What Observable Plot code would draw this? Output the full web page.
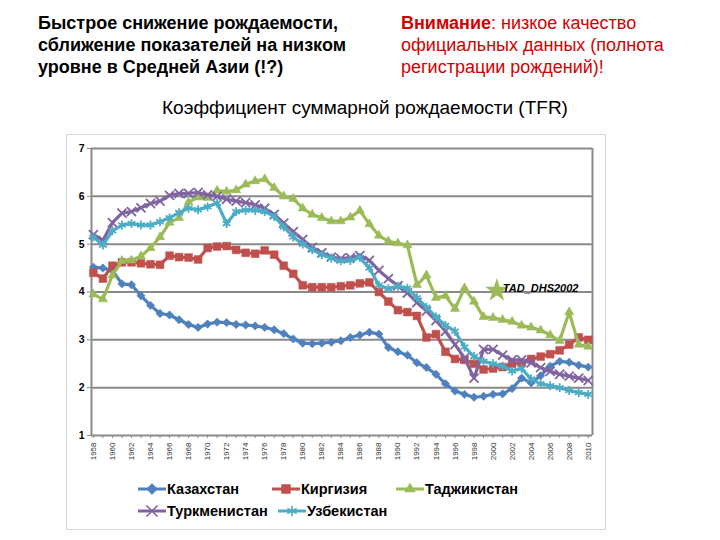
<!DOCTYPE html>
<html><head><meta charset="utf-8">
<script src="https://cdn.jsdelivr.net/npm/d3@7"></script>
<script src="https://cdn.jsdelivr.net/npm/@observablehq/plot@0.6"></script>
<style>
body{margin:0;background:#fff;font-family:"Liberation Sans",Arial,sans-serif;}
#wrap{position:relative;width:720px;height:540px;overflow:hidden;}
.t1{position:absolute;left:38px;top:12px;font-weight:bold;font-size:18px;line-height:22px;color:#000;}
.t2{position:absolute;left:401px;top:12px;font-size:18px;line-height:22px;color:#d40000;}
.h{position:absolute;left:0;width:730px;top:97px;text-align:center;font-size:19px;color:#000;}
.box{position:absolute;left:66px;top:134px;width:540px;height:396px;border:1px solid #d8d8d8;box-sizing:border-box;}
#chart{position:absolute;left:60px;top:138px;}
.leg{position:absolute;font-weight:bold;font-size:14.5px;color:#000;display:flex;align-items:center;white-space:nowrap;}
</style></head>
<body><div id="wrap">
<div class="t1">Быстрое снижение рождаемости,<br>сближение показателей на низком<br>уровне в Средней Азии (!?)</div>
<div class="t2"><b>Внимание</b>: низкое качество<br>официальных данных (полнота<br>регистрации рождений)!</div>
<div class="h">Коэффициент суммарной рождаемости (TFR)</div>
<div class="box"></div>
<div id="chart"></div>
<div id="legend"></div>
</div>
<script>
const years = d3.range(1958, 2011);
const yTicks = [1, 2, 3, 4, 5, 6, 7];
const seriesNames = ["Казахстан", "Киргизия", "Таджикистан", "Туркменистан", "Узбекистан"];
const kaz = [4.52,4.50,4.45,4.17,4.15,3.92,3.72,3.55,3.52,3.42,3.32,3.26,3.33,3.37,3.36,3.32,3.31,3.29,3.26,3.21,3.13,3.02,2.93,2.92,2.93,2.95,2.98,3.05,3.10,3.16,3.12,2.84,2.75,2.68,2.52,2.42,2.28,2.08,1.93,1.86,1.80,1.82,1.86,1.87,1.98,2.20,2.10,2.25,2.45,2.55,2.53,2.47,2.43];
const kyr = [4.40,4.28,4.55,4.62,4.62,4.60,4.58,4.57,4.76,4.73,4.72,4.68,4.92,4.95,4.96,4.88,4.82,4.80,4.87,4.78,4.55,4.38,4.14,4.10,4.10,4.10,4.12,4.14,4.18,4.20,4.00,3.80,3.62,3.58,3.50,3.05,3.12,2.75,2.60,2.58,2.50,2.38,2.40,2.43,2.50,2.52,2.60,2.65,2.70,2.78,2.90,3.05,3.00];
const taj = [3.95,3.85,4.35,4.65,4.66,4.75,4.92,5.15,5.45,5.55,5.88,5.98,5.97,6.12,6.10,6.13,6.25,6.32,6.36,6.18,6.00,5.95,5.75,5.62,5.55,5.48,5.48,5.56,5.70,5.42,5.18,5.06,5.02,4.98,4.15,4.35,3.88,3.92,3.65,4.08,3.80,3.48,3.46,3.42,3.38,3.30,3.26,3.20,3.10,2.98,3.58,2.90,2.86];
const tkm = [5.20,5.08,5.45,5.65,5.68,5.76,5.85,5.90,6.02,6.06,6.06,6.08,6.03,6.00,5.94,5.90,5.87,5.82,5.75,5.62,5.44,5.26,5.10,4.93,4.82,4.73,4.70,4.72,4.76,4.66,4.45,4.28,4.13,3.98,3.78,3.60,3.40,3.18,2.90,2.62,2.20,2.80,2.80,2.68,2.58,2.58,2.52,2.42,2.34,2.28,2.24,2.20,2.15];
const uzb = [5.15,4.98,5.28,5.40,5.43,5.40,5.40,5.47,5.55,5.66,5.75,5.72,5.78,5.86,5.43,5.68,5.71,5.71,5.68,5.58,5.36,5.15,5.00,4.88,4.78,4.71,4.65,4.66,4.72,4.50,4.14,4.07,4.12,4.08,3.88,3.68,3.48,3.30,3.18,2.85,2.65,2.55,2.50,2.45,2.35,2.40,2.18,2.08,2.04,2.00,1.94,1.90,1.86];
const dhsYear = [2000.4];
const dhsValue = [4.03];
const dhsLabel = ["TAD_DHS2002"];

const colors = ["#4f81bd", "#c0504d", "#9bbb59", "#8064a2", "#4bacc6"];
const symbols = ["diamond2", "square", "triangle2", "times", "asterisk"];
const sizes = [3.8, 4.4, 4.4, 4.2, 4.2];
const allValues = [kaz, kyr, taj, tkm, uzb];

const rows = [];
seriesNames.forEach((s, k) => allValues[k].forEach((v, i) => rows.push({country: s, year: years[i], value: v})));
const dhs = dhsYear.map((y, i) => ({year: y, value: dhsValue[i], label: dhsLabel[i]}));

const marks = [
  Plot.ruleY(yTicks, {stroke: "#8a8a8a", strokeWidth: 2}),
  Plot.ruleX([1957.8], {y1: 1, y2: 7, stroke: "#8a8a8a", strokeWidth: 2}),
  Plot.ruleX([2010.45], {y1: 1, y2: 7, stroke: "#8a8a8a", strokeWidth: 2}),
  Plot.axisY({ticks: yTicks, tickSize: 4, tickPadding: 3, fontSize: 10.5, fontWeight: "bold", stroke: "#8a8a8a", fill: "#000", label: null, tickFormat: d3.format("d")}),
  Plot.axisX({ticks: years, tickSize: 3, tickFormat: d => (d % 2 === 0 ? String(d) : ""), tickRotate: -90, fontSize: 8, fill: "#333", stroke: "#8a8a8a", tickPadding: 4, label: null})
];
seriesNames.forEach((s, k) => {
  const data = rows.filter(r => r.country === s);
  marks.push(Plot.line(data, {x: "year", y: "value", stroke: colors[k], strokeWidth: 3.2}));
  marks.push(Plot.dot(data, {x: "year", y: "value", symbol: () => symbols[k], r: sizes[k], fill: (k >= 3 ? "none" : colors[k]), stroke: colors[k], strokeWidth: (k >= 3 ? 1.8 : 0.5)}));
});
marks.push(Plot.dot(dhs, {x: "year", y: "value", symbol: "star", r: 6, fill: "#9bbb59", stroke: "#9bbb59"}));
marks.push(Plot.text(dhs, {x: "year", y: "value", text: "label", dx: 6, dy: -2, textAnchor: "start", fontStyle: "italic", fontWeight: "bold", fontSize: 11, fill: "#000"}));

const chart = Plot.plot({
  width: 540, height: 337,
  marginLeft: 31, marginRight: 8, marginTop: 10, marginBottom: 40,
  style: {fontFamily: "Liberation Sans, Arial, sans-serif", background: "transparent"},
  x: {domain: [1957.8, 2010.45], axis: null},
  y: {domain: [1, 7], axis: null},
  marks
});
document.getElementById("chart").appendChild(chart);

// legend
const legPos = [[137, 480], [271, 480], [395, 480], [137, 502], [277, 502]];
const legend = document.getElementById("legend");
seriesNames.forEach((s, k) => {
  const div = document.createElement("div");
  div.className = "leg";
  div.style.left = legPos[k][0] + "px";
  div.style.top = legPos[k][1] + "px";
  const sym = d3.create("svg").attr("width", 30).attr("height", 18);
  sym.append("line").attr("x1", 1).attr("x2", 29).attr("y1", 9).attr("y2", 9).attr("stroke", colors[k]).attr("stroke-width", 3);
  const d3sym = {diamond2: d3.symbolDiamond2, square: d3.symbolSquare, triangle2: d3.symbolTriangle2, times: d3.symbolTimes, asterisk: d3.symbolAsterisk}[symbols[k]];
  sym.append("path").attr("d", d3.symbol(d3sym, 80)()).attr("transform", "translate(15,9)")
    .attr("fill", k >= 3 ? "none" : colors[k]).attr("stroke", colors[k]).attr("stroke-width", k >= 3 ? 1.6 : 0.5);
  div.appendChild(sym.node());
  const span = document.createElement("span");
  span.textContent = s;
  div.appendChild(span);
  legend.appendChild(div);
});
</script>
</body></html>
